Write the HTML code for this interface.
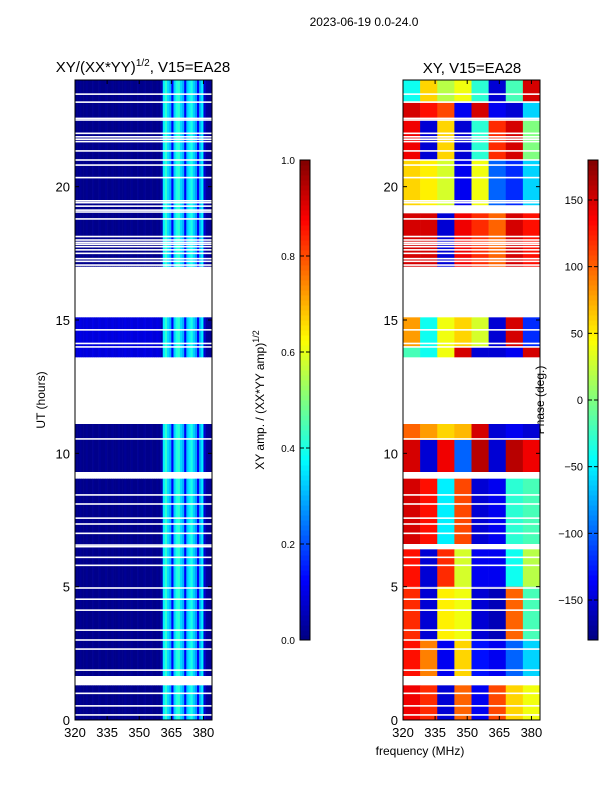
<!DOCTYPE html>
<html><head><meta charset="utf-8">
<style>
body{margin:0;background:#fff;font-family:"Liberation Sans",sans-serif}
svg text{font-family:"Liberation Sans",sans-serif;fill:#000}
</style></head>
<body>
<svg id="fig" width="600" height="800" xmlns="http://www.w3.org/2000/svg">
<text x="364" y="26" font-size="12" text-anchor="middle">2023-06-19 0.0-24.0</text>
<text x="143" y="72" font-size="15" text-anchor="middle">XY/(XX*YY)<tspan font-size="10" dy="-6">1/2</tspan><tspan dy="6">, V15=EA28</tspan></text>
<text x="472" y="73" font-size="15" text-anchor="middle">XY, V15=EA28</text>
<text x="420" y="755" font-size="12" text-anchor="middle">frequency (MHz)</text>
<text x="45" y="400" font-size="12" text-anchor="middle" transform="rotate(-90 45 400)">UT (hours)</text>
<text x="264" y="400" font-size="12" text-anchor="middle" transform="rotate(-90 264 400)">XY amp. / (XX*YY amp)<tspan font-size="9" dy="-5">1/2</tspan></text>
<text x="544" y="400" font-size="12" text-anchor="middle" transform="rotate(-90 544 400)">Phase (deg.)</text>
<g id="left"></g>
<g id="right"></g>
<g id="cb"></g>
<g id="axes"></g>
</svg>
<script>
// ---- data ----
const ampChannels = [0.01,0.01,0.02,0.01,0.01,0.02,0.01,0.01,0.02,0.01,0.01,0.02,0.01,0.01,0.02,0.01,0.01,0.02,0.01,0.01,0.02,0.01,0.01,0.02,0.01,0.01,0.02,0.01,0.01,0.02,0.01,0.01,0.02,0.01,0.01,0.02,0.01,0.01,0.02,0.01,
 0.05,0.36,0.42,0.34,0.30,0.12,0.33,0.40,0.42,0.34,0.30,0.12,0.32,0.36,0.40,0.33,0.28,0.12,0.30,0.36,0.08,0.03,0.02,0.02];
const dataSegments = [[0,1.3],[1.65,9.05],[9.3,11.1],[13.6,15.1],[17.0,24]];
const flagLines = [23.47,23.17,22.56,22.5,22.0,21.87,21.78,21.69,21.34,21.0,20.81,20.34,19.47,19.4,19.27,19.05,19.12,18.79,18.13,18.0,17.91,17.84,17.75,17.63,17.5,17.2,17.3,17.06,14.63,14.12,13.99,10.54,8.44,8.1,7.57,7.35,7.0,6.5,6.56,6.1,5.8,4.95,4.53,4.12,3.37,3.0,2.66,1.87,1.0,0.53,0.19];
const phaseBlockStart = [0,1.65,3.0,5.0,6.6,9.3,10.5,13.6,14.0,17.0,19.3,21.0,22.5,23.2];
const phaseBlockEnd   = [1.3,3.0,5.0,6.4,9.05,10.5,11.1,14.0,15.1,19.0,21.0,22.5,23.2,24];
const phaseBlocks = [
 [140,120,-150,100,-140,110,60,40],
 [130,90,-140,60,-130,-140,-100,-60],
 [120,-150,50,40,-150,-160,100,-20],
 [130,-150,120,30,-140,-140,-40,20],
 [150,130,-50,110,-150,-140,-30,-20],
 [150,-150,140,-100,160,-150,160,140],
 [100,80,60,70,150,-150,-140,-150],
 [-20,-40,40,150,-150,-150,-140,150],
 [80,-40,40,60,30,-150,150,-120],
 [150,150,-150,140,120,100,150,130],
 [60,50,30,-140,40,-100,-120,-60],
 [140,-150,60,-150,-30,120,150,0],
 [150,130,110,-140,150,-140,-150,-60],
 [-40,60,20,40,-30,-150,-20,150]];
const yTicks=[0,5,10,15,20], xTicks=[320,335,350,365,380];
const ampTicks=[0.0,0.2,0.4,0.6,0.8,1.0], phaseTicks=[-150,-100,-50,0,50,100,150];
// ---- helpers ----
const NS="http://www.w3.org/2000/svg";
function jet(v){v=Math.max(0,Math.min(1,v));
 const f=t=>Math.max(0,Math.min(1,1.5-Math.abs(4*v-t)));
 return `rgb(${Math.round(255*f(3))},${Math.round(255*f(2))},${Math.round(255*f(1))})`;}
const Y0=720,Y1=80,yS=h=>Y0-h*(Y0-Y1)/24;
const xL=f=>75+(f-320)*137/64, xR=f=>403+(f-320)*137/64;
function mk(tag,attrs,parent){const e=document.createElementNS(NS,tag);for(const k in attrs)e.setAttribute(k,attrs[k]);parent.appendChild(e);return e;}
const L=document.getElementById('left'),R=document.getElementById('right'),CB=document.getElementById('cb'),AX=document.getElementById('axes');
// amplitude
dataSegments.forEach(([a,b])=>{
 ampChannels.forEach((v,i)=>{
  const boost=(a===13.6&&i<40)?0.08:0;
  const r=mk('rect',{x:xL(320+i),y:yS(b),width:xL(321+i)-xL(320+i)+0.3,height:yS(a)-yS(b),fill:jet(v+boost)},L);
  
  
 });
});
// phase
phaseBlocks.forEach((row,bi)=>{
 const a=phaseBlockStart[bi],b=phaseBlockEnd[bi];
 row.forEach((p,ci)=>{
  const r=mk('rect',{x:xR(320+ci*8),y:yS(b),width:xR(328)-xR(320)+0.3,height:yS(a)-yS(b),fill:jet((p+180)/360)},R);
  
  
 });
});
// flags
[[L,75],[R,403]].forEach(([g,x0])=>{
 flagLines.forEach(h=>{const r=mk('rect',{x:x0,y:yS(h)-0.8,width:137,height:1.6,fill:'#fff'},g);
  
  });
});
// colorbars
function cbar(x,n){for(let i=0;i<n;i++){const y=640-(i+1)*480/n;mk('rect',{x:x,y:y,width:10,height:480/n+0.5,fill:jet((i+0.5)/n)},CB);}
 mk('rect',{x:x,y:160,width:10,height:480,fill:'none',stroke:'#000','stroke-width':1},CB);}
cbar(300,96);cbar(588,96);
ampTicks.forEach(t=>{const y=640-t*480;mk('line',{x1:300,x2:304,y1:y,y2:y,stroke:'#000'},CB);mk('line',{x1:306,x2:310,y1:y,y2:y,stroke:'#000'},CB);
 const tx=mk('text',{x:295,y:y+4,'font-size':10,'text-anchor':'end'},CB);tx.textContent=t.toFixed(1);
 
 });
phaseTicks.forEach(t=>{const y=400-t*480/360;mk('line',{x1:588,x2:592,y1:y,y2:y,stroke:'#000'},CB);mk('line',{x1:594,x2:598,y1:y,y2:y,stroke:'#000'},CB);
 const tx=mk('text',{x:583,y:y+4,'font-size':11,'text-anchor':'end'},CB);tx.textContent=t<0?'\u2212'+(-t):t;
 
 });
// axes
[[75,xL],[403,xR]].forEach(([x0,xs])=>{
 mk('rect',{x:x0,y:80,width:137,height:640,fill:'none',stroke:'#000','stroke-width':1},AX);
 yTicks.forEach(t=>{const y=yS(t);mk('line',{x1:x0,x2:x0+4,y1:y,y2:y,stroke:'#000'},AX);mk('line',{x1:x0+133,x2:x0+137,y1:y,y2:y,stroke:'#000'},AX);
  const tx=mk('text',{x:x0-5,y:y+5,'font-size':13,'text-anchor':'end'},AX);tx.textContent=t;
  
  });
 xTicks.forEach(t=>{const x=xs(t);mk('line',{x1:x,x2:x,y1:716,y2:720,stroke:'#000'},AX);mk('line',{x1:x,x2:x,y1:80,y2:84,stroke:'#000'},AX);
  const tx=mk('text',{x:x,y:737,'font-size':13,'text-anchor':'middle'},AX);tx.textContent=t;
  
  });
});
</script>
</body></html>
